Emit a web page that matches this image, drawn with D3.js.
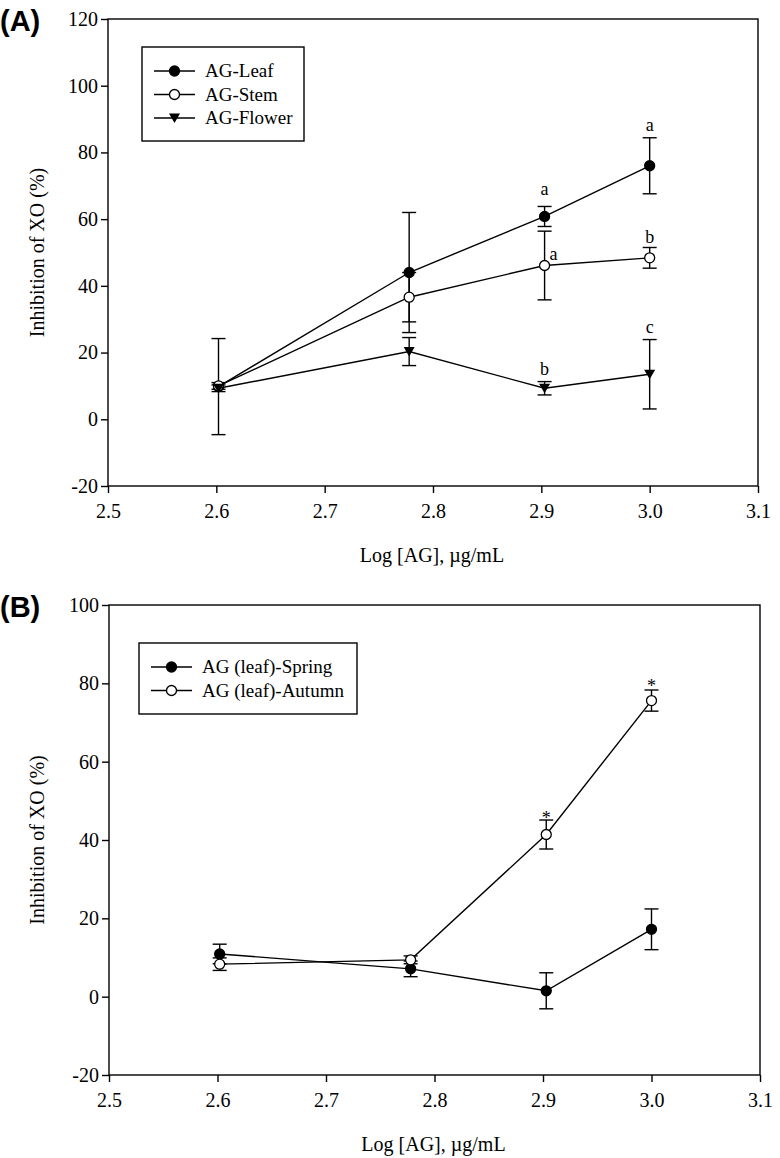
<!DOCTYPE html>
<html>
<head>
<meta charset="utf-8">
<script src="https://cdn.jsdelivr.net/npm/d3@7"></script>
<style>
  body { margin: 0; background: #fff; }
  svg text { font-family: "Liberation Serif", "Times New Roman", serif; fill: #000; }
</style>
</head>
<body>
<svg id="chart" width="780" height="1158"></svg>
<script>
// log10 of AG concentration (400, 600, 800, 1000 ug/mL)
const logDose = [2.602, 2.778, 2.903, 3.0];

// panel A: plant part
const leafMean = [9.8, 44, 60.8, 76];
const leafErr = [14.4, 18, 3, 8.4];
const stemMean = [10, 36.6, 46.1, 48.4];
const stemErr = [1, 7.4, 10.3, 3.1];
const flowerMean = [9.3, 20.3, 9.3, 13.5];
const flowerErr = [1, 4.2, 2, 10.4];
const lettersA = [
  { x: 2.903, y: 69, t: "a", dx: 0 },
  { x: 2.903, y: 49.6, t: "a", dx: 9 },
  { x: 2.903, y: 15, t: "b", dx: 0 },
  { x: 3.0, y: 88.3, t: "a", dx: 0 },
  { x: 3.0, y: 54.5, t: "b", dx: 0 },
  { x: 3.0, y: 27.7, t: "c", dx: 0 }
];

// panel B: season (leaf)
const springMean = [10.9, 7.1, 1.5, 17.2];
const springErr = [2.5, 2, 4.6, 5.2];
const autumnMean = [8.3, 9.4, 41.4, 75.6];
const autumnErr = [1.6, 1, 3.7, 2.7];
const lettersB = [
  { x: 2.903, y: 46.5, t: "*", dx: 0 },
  { x: 3.0, y: 80.3, t: "*", dx: 0 }
];

const xTicks = [2.5, 2.6, 2.7, 2.8, 2.9, 3.0, 3.1];
const yTicksA = [-20, 0, 20, 40, 60, 80, 100, 120];
const yTicksB = [-20, 0, 20, 40, 60, 80, 100];

const serif = "'Liberation Serif', 'Times New Roman', serif";
const svg = d3.select("#chart");

function drawMarkers(sel, pts, shape) {
  if (shape === "tri") {
    sel.selectAll(null).data(pts).enter().append("path")
      .attr("transform", d => `translate(${d[0]},${d[1]})`)
      .attr("d", "M-5.5,-4.5L5.5,-4.5L0,5z").attr("fill", "#000");
  } else {
    sel.selectAll(null).data(pts).enter().append("circle")
      .attr("cx", d => d[0]).attr("cy", d => d[1]).attr("r", 5)
      .attr("fill", shape === "open" ? "#fff" : "#000")
      .attr("stroke", "#000").attr("stroke-width", 1.3);
  }
}

function drawPanel(cfg) {
  const g = svg.append("g");
  const x = d3.scaleLinear().domain([2.5, 3.1]).range([cfg.left, cfg.right]);
  const y = d3.scaleLinear().domain(cfg.yDomain).range([cfg.bottom, cfg.top]);

  // frame
  g.append("rect")
    .attr("x", cfg.left).attr("y", cfg.top)
    .attr("width", cfg.right - cfg.left).attr("height", cfg.bottom - cfg.top)
    .attr("fill", "none").attr("stroke", "#000").attr("stroke-width", 1.4);

  const yAxis = d3.axisLeft(y).tickValues(cfg.yTicks).tickFormat(d => String(d))
    .tickSize(7).tickSizeOuter(0).tickPadding(3);
  const xAxis = d3.axisBottom(x).tickValues(xTicks).tickFormat(d3.format(".1f"))
    .tickSize(7).tickSizeOuter(0).tickPadding(11);

  const styleAxis = a => {
    a.attr("font-family", serif).attr("font-size", 20);
    a.select(".domain").remove();
    a.selectAll("line").attr("stroke-width", 1.4);
    a.selectAll("text").style("font-family", serif).style("font-size", "20px");
  };
  g.append("g").attr("transform", `translate(${cfg.left},0)`).call(yAxis).call(styleAxis);
  g.append("g").attr("transform", `translate(0,${cfg.bottom})`).call(xAxis).call(styleAxis);

  // titles
  g.append("text")
    .attr("transform", `translate(44,${(cfg.top + cfg.bottom) / 2}) rotate(-90)`)
    .attr("text-anchor", "middle").attr("font-size", 20)
    .text("Inhibition of XO (%)");
  g.append("text")
    .attr("x", (cfg.left + cfg.right) / 2 - 1).attr("y", cfg.bottom + 76)
    .attr("text-anchor", "middle").attr("font-size", 20)
    .text("Log [AG], µg/mL");
  g.append("text")
    .attr("x", 0).attr("y", cfg.top + 12)
    .attr("font-weight", "bold").attr("font-size", 29)
    .style("font-family", "'Liberation Sans', Arial, sans-serif")
    .text(cfg.tag);

  const line = d3.line().x(d => x(d.x)).y(d => y(d.y));

  cfg.series.forEach(s => {
    const pts = logDose.map((d, i) => ({ x: d, y: s.mean[i], e: s.err[i] }));
    const sg = g.append("g");

    // error bars
    const eb = sg.selectAll(".eb").data(pts).enter().append("g")
      .attr("stroke", "#000").attr("stroke-width", 1.4);
    eb.append("line")
      .attr("x1", d => x(d.x)).attr("x2", d => x(d.x))
      .attr("y1", d => y(d.y - d.e)).attr("y2", d => y(d.y + d.e));
    eb.append("line")
      .attr("x1", d => x(d.x) - 7).attr("x2", d => x(d.x) + 7)
      .attr("y1", d => y(d.y + d.e)).attr("y2", d => y(d.y + d.e));
    eb.append("line")
      .attr("x1", d => x(d.x) - 7).attr("x2", d => x(d.x) + 7)
      .attr("y1", d => y(d.y - d.e)).attr("y2", d => y(d.y - d.e));

    sg.append("path").datum(pts).attr("d", line)
      .attr("fill", "none").attr("stroke", "#000").attr("stroke-width", 1.4);

    drawMarkers(sg, pts.map(p => [x(p.x), y(p.y)]), s.shape);
  });

  // significance letters
  g.selectAll(".lt").data(cfg.letters).enter().append("text")
    .attr("x", d => x(d.x) + d.dx).attr("y", d => y(d.y))
    .attr("dy", d => d.t === "*" ? "0.55em" : "0.32em")
    .attr("text-anchor", "middle").attr("font-size", 18)
    .text(d => d.t);

  // legend
  const lg = g.append("g");
  lg.append("rect")
    .attr("x", cfg.legend.x).attr("y", cfg.legend.y)
    .attr("width", cfg.legend.w).attr("height", cfg.legend.h)
    .attr("fill", "#fff").attr("stroke", "#000").attr("stroke-width", 1.4);
  cfg.series.forEach((s, i) => {
    const ry = cfg.legend.y + cfg.legend.first + i * 23.5;
    const lx = cfg.legend.x + 12;
    lg.append("line").attr("x1", lx).attr("x2", lx + 41)
      .attr("y1", ry).attr("y2", ry)
      .attr("stroke", "#000").attr("stroke-width", 1.4);
    drawMarkers(lg, [[lx + 20.5, ry]], s.shape);
    lg.append("text").attr("x", lx + 51).attr("y", ry).attr("dy", "0.34em")
      .attr("font-size", 19).text(s.name);
  });
}

drawPanel({
  tag: "(A)",
  left: 108, right: 758, top: 19, bottom: 486,
  yDomain: [-20, 120], yTicks: yTicksA,
  series: [
    { name: "AG-Leaf", mean: leafMean, err: leafErr, shape: "filled" },
    { name: "AG-Stem", mean: stemMean, err: stemErr, shape: "open" },
    { name: "AG-Flower", mean: flowerMean, err: flowerErr, shape: "tri" }
  ],
  letters: lettersA,
  legend: { x: 142, y: 47, w: 162, h: 94, first: 24 }
});

drawPanel({
  tag: "(B)",
  left: 109, right: 760, top: 605, bottom: 1075,
  yDomain: [-20, 100], yTicks: yTicksB,
  series: [
    { name: "AG (leaf)-Spring", mean: springMean, err: springErr, shape: "filled" },
    { name: "AG (leaf)-Autumn", mean: autumnMean, err: autumnErr, shape: "open" }
  ],
  letters: lettersB,
  legend: { x: 139, y: 643, w: 218, h: 71, first: 24 }
});
</script>
</body>
</html>
